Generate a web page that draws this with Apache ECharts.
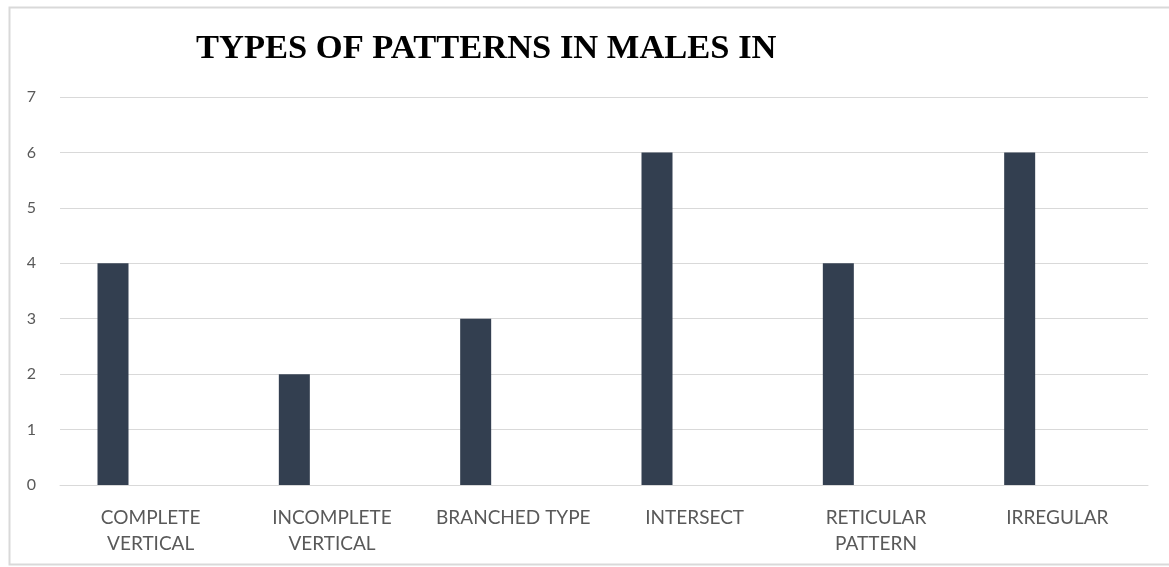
<!DOCTYPE html>
<html>
<head>
<meta charset="utf-8">
<script src="https://cdn.jsdelivr.net/npm/echarts@6/dist/echarts.min.js"></script>
<style>
html,body{margin:0;padding:0;background:#fff;}
#c{width:1169px;height:567px;}
</style>
</head>
<body>
<div id="c"></div>
<script>
const titleText = 'TYPES OF PATTERNS IN MALES IN';
const categories = ['COMPLETE\nVERTICAL', 'INCOMPLETE\nVERTICAL', 'BRANCHED TYPE', 'INTERSECT', 'RETICULAR\nPATTERN', 'IRREGULAR'];
const values = [4, 2, 3, 6, 4, 6];
const emptySeries = [null, null, null, null, null, null];
const yTicks = {min: 0, max: 7, interval: 1};

const chart = echarts.init(document.getElementById('c'));
chart.setOption({
  animation: false,
  backgroundColor: '#ffffff',
  graphic: [{
    type: 'rect',
    shape: {x: 9.5, y: 7.5, width: 1200, height: 557},
    style: {fill: 'none', stroke: '#d9d9d9', lineWidth: 2},
    silent: true
  }],
  title: {
    text: titleText,
    left: 191,
    top: 27,
    textStyle: {
      fontFamily: '"Liberation Serif", "Times New Roman", serif',
      fontWeight: 'bold',
      fontSize: 34.5,
      color: '#000000'
    }
  },
  grid: {left: 60, right: 21, top: 97, bottom: 82, containLabel: false},
  xAxis: {
    type: 'category',
    data: categories,
    axisLine: {show: true, lineStyle: {color: '#d9d9d9', width: 1}},
    axisTick: {show: false},
    axisLabel: {
      interval: 0,
      margin: 20,
      fontFamily: 'Lato, "Open Sans", sans-serif',
      fontSize: 19,
      lineHeight: 26,
      color: '#595959'
    }
  },
  yAxis: {
    type: 'value',
    min: yTicks.min,
    max: yTicks.max,
    interval: yTicks.interval,
    axisLine: {show: false},
    axisTick: {show: false},
    splitLine: {lineStyle: {color: '#d9d9d9', width: 1}},
    axisLabel: {
      margin: 24,
      fontFamily: 'Lato, "Open Sans", sans-serif',
      fontSize: 16,
      color: '#595959'
    }
  },
  series: [{
    type: 'bar',
    data: values,
    barWidth: 31,
    barGap: '143%',
    itemStyle: {color: '#333f50'}
  }, {
    type: 'bar',
    data: emptySeries,
    barWidth: 31,
    itemStyle: {color: 'transparent'}
  }]
});
</script>
</body>
</html>
